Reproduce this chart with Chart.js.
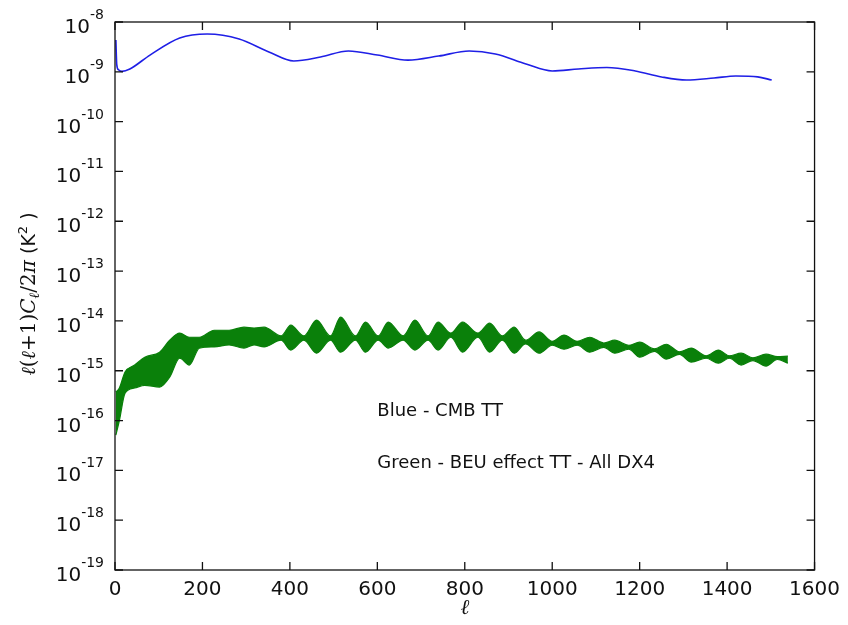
<!DOCTYPE html>
<html>
<head>
<meta charset="utf-8">
<script src="https://cdn.jsdelivr.net/npm/chart.js@4.4.1/dist/chart.umd.min.js"></script>
<style>
  html, body { margin: 0; padding: 0; background: #fff; }
  #contenedor { width: 848px; height: 625px; }
</style>
</head>
<body>
<div id="contenedor"><canvas id="grafico-espectro"></canvas></div>
<script>
// Espectro CMB TT (azul)
const ellCmb = [2, 4, 8, 16, 34, 80, 148, 211, 284, 352, 409, 470, 534, 600, 670, 740, 810, 870, 940, 1000, 1060, 1125, 1190, 1250, 1307, 1370, 1420, 1470, 1502];
const clCmb = [4.35e-9, 1.4e-9, 1.1e-9, 1.02e-9, 1.14e-9, 2.17e-9, 4.77e-9, 5.74e-9, 4.56e-9, 2.5e-9, 1.65e-9, 1.98e-9, 2.62e-9, 2.17e-9, 1.72e-9, 2.07e-9, 2.62e-9, 2.28e-9, 1.44e-9, 1.04e-9, 1.14e-9, 1.22e-9, 1.04e-9, 0.79e-9, 0.684e-9, 0.75e-9, 0.824e-9, 0.79e-9, 0.684e-9];

// Efecto BEU TT (verde): borde superior e inferior de la banda
const ellBeu = [2, 10, 23, 45, 68, 102, 125, 148, 170, 193, 227, 261, 295, 318, 341, 380, 402, 432, 461, 493, 516, 550, 573, 602, 625, 659, 686, 716, 739, 768, 795, 830, 857, 886, 913, 939, 970, 1000, 1027, 1057, 1086, 1118, 1143, 1175, 1200, 1234, 1261, 1291, 1318, 1352, 1380, 1405, 1432, 1459, 1489, 1515, 1539];
const beuSup = [3.7e-16, 4.5e-16, 9.4e-16, 1.3e-15, 1.87e-15, 2.36e-15, 4.1e-15, 5.7e-15, 4.7e-15, 4.7e-15, 6.5e-15, 6.5e-15, 7.5e-15, 7.2e-15, 7.5e-15, 5.0e-15, 8.2e-15, 5.0e-15, 1.04e-14, 5.0e-15, 1.19e-14, 5.0e-15, 9.5e-15, 5.0e-15, 9.5e-15, 5.0e-15, 1.04e-14, 5.0e-15, 9.5e-15, 5.7e-15, 9.5e-15, 5.7e-15, 9.0e-15, 5.0e-15, 7.5e-15, 4.1e-15, 6.0e-15, 3.9e-15, 5.2e-15, 3.9e-15, 4.7e-15, 3.6e-15, 4.1e-15, 3.25e-15, 3.75e-15, 2.75e-15, 3.4e-15, 2.4e-15, 2.85e-15, 2.0e-15, 2.6e-15, 2.0e-15, 2.25e-15, 1.82e-15, 2.15e-15, 1.92e-15, 1.96e-15];
const beuInf = [5.1e-17, 1.0e-16, 3.55e-16, 4.5e-16, 5.1e-16, 4.7e-16, 7.4e-16, 1.79e-15, 1.3e-15, 2.85e-15, 3.0e-15, 3.3e-15, 2.85e-15, 3.3e-15, 3.0e-15, 4.1e-15, 2.6e-15, 4.1e-15, 2.25e-15, 4.1e-15, 2.36e-15, 4.1e-15, 2.36e-15, 4.1e-15, 2.85e-15, 4.1e-15, 2.6e-15, 4.1e-15, 2.6e-15, 4.7e-15, 2.36e-15, 4.7e-15, 2.36e-15, 4.1e-15, 2.25e-15, 3.45e-15, 2.25e-15, 3.25e-15, 2.7e-15, 3.25e-15, 2.36e-15, 2.95e-15, 2.25e-15, 2.7e-15, 1.87e-15, 2.45e-15, 1.71e-15, 2.12e-15, 1.49e-15, 1.78e-15, 1.42e-15, 1.78e-15, 1.3e-15, 1.6e-15, 1.24e-15, 1.68e-15, 1.42e-15];

// Ejes
const ticksX = [0, 200, 400, 600, 800, 1000, 1200, 1400, 1600];
const exponentesY = [-19, -18, -17, -16, -15, -14, -13, -12, -11, -10, -9, -8];

// Notas dentro del gráfico
const notas = [
  { texto: 'Blue - CMB TT', ell: 600, valor: 1.5e-16 },
  { texto: 'Green - BEU effect TT - All DX4', ell: 600, valor: 1.4e-17 }
];

const puntos = (xs, ys) => xs.map((x, i) => ({ x: x, y: ys[i] }));

// Marco, ticks hacia adentro, etiquetas 10^n y títulos de ejes
const marcoYTextos = {
  id: 'marcoYTextos',
  afterDraw(chart) {
    const { ctx, chartArea: a, scales } = chart;
    const sx = scales.x, sy = scales.y;
    ctx.save();
    ctx.strokeStyle = '#111';
    ctx.lineWidth = 1.3;
    ctx.strokeRect(a.left, a.top, a.right - a.left, a.bottom - a.top);

    const largo = 8;
    ctx.beginPath();
    ticksX.forEach(v => {
      const px = sx.getPixelForValue(v);
      ctx.moveTo(px, a.bottom); ctx.lineTo(px, a.bottom - largo);
      ctx.moveTo(px, a.top); ctx.lineTo(px, a.top + largo);
    });
    exponentesY.forEach(e => {
      const py = sy.getPixelForValue(Math.pow(10, e));
      ctx.moveTo(a.left, py); ctx.lineTo(a.left + largo, py);
      ctx.moveTo(a.right, py); ctx.lineTo(a.right - largo, py);
    });
    ctx.stroke();

    // etiquetas del eje y con exponente
    ctx.fillStyle = '#111';
    ctx.textAlign = 'right';
    ctx.textBaseline = 'alphabetic';
    const xDer = a.left - 11;
    exponentesY.forEach(e => {
      const py = sy.getPixelForValue(Math.pow(10, e));
      const exp = String(e);
      ctx.font = '14px "DejaVu Sans"';
      const wExp = ctx.measureText(exp).width;
      ctx.fillText(exp, xDer, py - 3);
      ctx.font = '20px "DejaVu Sans"';
      ctx.fillText('10', xDer - wExp, py + 11);
    });

    // título eje x
    ctx.textAlign = 'center';
    ctx.font = 'italic 21px "DejaVu Serif"';
    ctx.fillText('\u2113', (a.left + a.right) / 2, 614);

    // título eje y (rotado)
    const piezas = [
      { t: '\u2113', f: 'italic 20px "DejaVu Serif"', dy: 0 },
      { t: '(', f: '20px "DejaVu Serif"', dy: 0 },
      { t: '\u2113', f: 'italic 20px "DejaVu Serif"', dy: 0 },
      { t: '+1)', f: '20px "DejaVu Serif"', dy: 0 },
      { t: 'C', f: 'italic 20px "DejaVu Serif"', dy: 0 },
      { t: '\u2113', f: 'italic 14px "DejaVu Serif"', dy: 4 },
      { t: '/2', f: '20px "DejaVu Serif"', dy: 0 },
      { t: '\u03c0', f: 'italic 20px "DejaVu Serif"', dy: 0 },
      { t: ' (K', f: '19px "DejaVu Sans"', dy: 0 },
      { t: '2', f: '13px "DejaVu Sans"', dy: -8 },
      { t: ' )', f: '19px "DejaVu Sans"', dy: 0 }
    ];
    let total = 0;
    piezas.forEach(p => { ctx.font = p.f; p.w = ctx.measureText(p.t).width; total += p.w; });
    ctx.translate(35, (a.top + a.bottom) / 2 - 2);
    ctx.rotate(-Math.PI / 2);
    ctx.textAlign = 'left';
    let x = -total / 2;
    piezas.forEach(p => {
      ctx.font = p.f;
      ctx.fillText(p.t, x, p.dy);
      x += p.w;
    });
    ctx.restore();

    // notas
    ctx.save();
    ctx.fillStyle = '#111';
    ctx.font = '18px "DejaVu Sans"';
    ctx.textAlign = 'left';
    ctx.textBaseline = 'middle';
    notas.forEach(n => {
      ctx.fillText(n.texto, sx.getPixelForValue(n.ell), sy.getPixelForValue(n.valor));
    });
    ctx.restore();
  }
};

const ctx = document.getElementById('grafico-espectro').getContext('2d');
new Chart(ctx, {
  type: 'line',
  data: {
    datasets: [
      {
        label: 'CMB TT',
        data: puntos(ellCmb, clCmb),
        borderColor: '#1f1fe6',
        borderWidth: 1.6,
        pointRadius: 0,
        cubicInterpolationMode: 'monotone',
        fill: false
      },
      {
        label: 'BEU sup',
        data: puntos(ellBeu, beuSup),
        borderColor: '#0a800a',
        backgroundColor: '#0a800a',
        borderWidth: 1.2,
        pointRadius: 0,
        cubicInterpolationMode: 'monotone',
        fill: '+1'
      },
      {
        label: 'BEU inf',
        data: puntos(ellBeu, beuInf),
        borderColor: '#0a800a',
        borderWidth: 1.2,
        pointRadius: 0,
        cubicInterpolationMode: 'monotone',
        fill: false
      }
    ]
  },
  options: {
    responsive: true,
    maintainAspectRatio: false,
    animation: false,
    devicePixelRatio: 1,
    layout: { padding: { top: 22, right: 29, left: 0, bottom: 0 } },
    plugins: {
      legend: { display: false },
      tooltip: { enabled: false }
    },
    scales: {
      x: {
        type: 'linear',
        min: 0,
        max: 1600,
        afterBuildTicks: s => { s.ticks = ticksX.map(v => ({ value: v })); },
        afterFit: s => { s.height = 55; },
        grid: { display: false, drawTicks: false },
        border: { display: false },
        ticks: {
          color: '#111',
          font: { family: 'DejaVu Sans', size: 20 },
          padding: 8,
          maxRotation: 0,
          autoSkip: false,
          callback: v => String(v)
        }
      },
      y: {
        type: 'logarithmic',
        min: 1e-19,
        max: 1e-8,
        afterBuildTicks: s => { s.ticks = exponentesY.map(e => ({ value: Math.pow(10, e) })); },
        afterFit: s => { s.width = 115; },
        grid: { display: false, drawTicks: false },
        border: { display: false },
        ticks: { display: false }
      }
    }
  },
  plugins: [marcoYTextos]
});
</script>
</body>
</html>
